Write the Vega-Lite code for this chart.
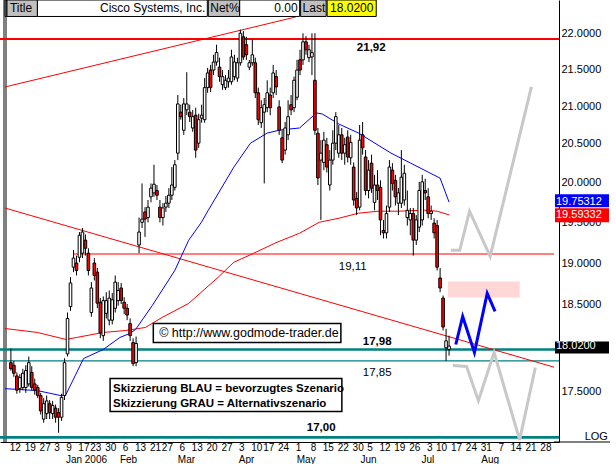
{
"$schema": "https://vega.github.io/schema/vega-lite/v6.json",
"width": 559, "height": 442,
"autosize": {"type": "none"},
"padding": {"left": 0, "top": 0, "right": 57, "bottom": 22},
"background": "#ffffff",
"config": {"view": {"stroke": null}, "font": "Liberation Sans"},
"data": {"values": [{}]},
"datasets": {
"candles": [
{"i":0,"o":17.83,"h":17.99,"l":17.74,"c":17.76},
{"i":1,"o":17.80,"h":17.85,"l":17.67,"c":17.71},
{"i":2,"o":17.68,"h":17.72,"l":17.48,"c":17.52},
{"i":3,"o":17.54,"h":17.70,"l":17.49,"c":17.66},
{"i":4,"o":17.55,"h":17.76,"l":17.52,"c":17.71},
{"i":5,"o":17.55,"h":17.80,"l":17.49,"c":17.74},
{"i":6,"o":17.59,"h":17.90,"l":17.56,"c":17.83},
{"i":7,"o":17.72,"h":17.79,"l":17.52,"c":17.55},
{"i":8,"o":17.59,"h":17.65,"l":17.47,"c":17.52},
{"i":9,"o":17.55,"h":17.58,"l":17.43,"c":17.46},
{"i":10,"o":17.46,"h":17.49,"l":17.25,"c":17.29},
{"i":11,"o":17.20,"h":17.43,"l":17.16,"c":17.37},
{"i":12,"o":17.26,"h":17.46,"l":17.20,"c":17.40},
{"i":13,"o":17.37,"h":17.41,"l":17.20,"c":17.27},
{"i":14,"o":17.26,"h":17.40,"l":17.20,"c":17.35},
{"i":15,"o":17.32,"h":17.36,"l":17.16,"c":17.22},
{"i":16,"o":17.27,"h":17.32,"l":17.05,"c":17.22},
{"i":17,"o":17.22,"h":17.48,"l":17.18,"c":17.44},
{"i":18,"o":17.46,"h":17.88,"l":17.41,"c":17.83},
{"i":19,"o":17.93,"h":18.41,"l":17.90,"c":18.34},
{"i":20,"o":18.48,"h":18.83,"l":18.43,"c":18.76},
{"i":21,"o":18.95,"h":19.16,"l":18.89,"c":19.06},
{"i":22,"o":19.00,"h":19.09,"l":18.85,"c":18.91},
{"i":23,"o":19.07,"h":19.38,"l":19.01,"c":19.34},
{"i":24,"o":19.12,"h":19.43,"l":19.06,"c":19.38},
{"i":25,"o":19.28,"h":19.35,"l":19.09,"c":19.18},
{"i":26,"o":19.12,"h":19.18,"l":18.85,"c":18.91},
{"i":27,"o":18.41,"h":18.77,"l":18.36,"c":18.70},
{"i":28,"o":19.00,"h":19.06,"l":18.79,"c":18.85},
{"i":29,"o":18.89,"h":18.94,"l":18.46,"c":18.52},
{"i":30,"o":18.53,"h":18.58,"l":18.11,"c":18.17},
{"i":31,"o":18.14,"h":18.60,"l":18.08,"c":18.55},
{"i":32,"o":18.40,"h":18.65,"l":18.34,"c":18.55},
{"i":33,"o":18.32,"h":18.67,"l":18.26,"c":18.58},
{"i":34,"o":18.32,"h":18.64,"l":18.27,"c":18.56},
{"i":35,"o":18.46,"h":18.85,"l":18.41,"c":18.77},
{"i":36,"o":18.55,"h":18.77,"l":18.49,"c":18.67},
{"i":37,"o":18.70,"h":18.76,"l":18.51,"c":18.55},
{"i":38,"o":18.53,"h":18.59,"l":18.39,"c":18.46},
{"i":39,"o":18.46,"h":18.51,"l":18.32,"c":18.38},
{"i":40,"o":18.28,"h":18.34,"l":18.08,"c":18.14},
{"i":41,"o":18.06,"h":18.11,"l":17.79,"c":17.82},
{"i":42,"o":17.83,"h":18.13,"l":17.79,"c":18.05},
{"i":43,"o":19.22,"h":19.56,"l":19.12,"c":19.38},
{"i":44,"o":19.50,"h":19.99,"l":19.43,"c":19.54},
{"i":45,"o":19.63,"h":19.69,"l":19.32,"c":19.54},
{"i":46,"o":19.56,"h":19.78,"l":19.50,"c":19.69},
{"i":47,"o":19.82,"h":19.99,"l":19.75,"c":19.93},
{"i":48,"o":19.87,"h":20.23,"l":19.82,"c":19.98},
{"i":49,"o":19.90,"h":19.97,"l":19.78,"c":19.84},
{"i":50,"o":19.69,"h":19.78,"l":19.50,"c":19.56},
{"i":51,"o":19.56,"h":19.74,"l":19.46,"c":19.68},
{"i":52,"o":19.69,"h":19.83,"l":19.63,"c":19.74},
{"i":53,"o":19.74,"h":19.93,"l":19.68,"c":19.84},
{"i":54,"o":19.84,"h":20.20,"l":19.78,"c":19.97},
{"i":55,"o":19.94,"h":20.29,"l":19.90,"c":20.23},
{"i":56,"o":20.38,"h":21.15,"l":20.29,"c":21.03},
{"i":57,"o":20.92,"h":21.02,"l":20.82,"c":20.86},
{"i":58,"o":20.68,"h":21.11,"l":20.62,"c":21.03},
{"i":59,"o":20.95,"h":21.46,"l":20.88,"c":21.03},
{"i":60,"o":20.92,"h":21.02,"l":20.79,"c":20.86},
{"i":61,"o":20.71,"h":20.95,"l":20.66,"c":20.86},
{"i":62,"o":20.88,"h":20.98,"l":20.32,"c":20.42},
{"i":63,"o":20.51,"h":20.90,"l":20.45,"c":20.82},
{"i":64,"o":20.84,"h":21.02,"l":20.78,"c":20.88},
{"i":65,"o":20.82,"h":21.38,"l":20.78,"c":21.25},
{"i":66,"o":21.25,"h":21.52,"l":21.18,"c":21.45},
{"i":67,"o":21.49,"h":21.56,"l":21.19,"c":21.25},
{"i":68,"o":21.49,"h":21.70,"l":21.42,"c":21.60},
{"i":69,"o":21.60,"h":21.84,"l":21.55,"c":21.73},
{"i":70,"o":21.53,"h":21.66,"l":21.33,"c":21.40},
{"i":71,"o":21.29,"h":21.49,"l":21.22,"c":21.40},
{"i":72,"o":21.25,"h":21.42,"l":21.22,"c":21.35},
{"i":73,"o":21.33,"h":21.49,"l":21.25,"c":21.38},
{"i":74,"o":21.33,"h":21.77,"l":21.29,"c":21.67},
{"i":75,"o":21.40,"h":21.70,"l":21.35,"c":21.60},
{"i":76,"o":21.38,"h":21.66,"l":21.33,"c":21.59},
{"i":77,"o":21.59,"h":22.05,"l":21.55,"c":22.00},
{"i":78,"o":21.95,"h":22.03,"l":21.63,"c":21.67},
{"i":79,"o":21.84,"h":21.95,"l":21.63,"c":21.70},
{"i":80,"o":21.53,"h":21.63,"l":21.49,"c":21.59},
{"i":81,"o":21.59,"h":21.91,"l":21.55,"c":21.70},
{"i":82,"o":21.59,"h":21.66,"l":21.11,"c":21.18},
{"i":83,"o":21.18,"h":21.25,"l":20.75,"c":20.82},
{"i":84,"o":20.78,"h":21.08,"l":20.71,"c":20.98},
{"i":85,"o":20.92,"h":21.11,"l":19.99,"c":21.02},
{"i":86,"o":20.98,"h":21.35,"l":20.92,"c":21.18},
{"i":87,"o":21.15,"h":21.25,"l":20.88,"c":20.98},
{"i":88,"o":21.18,"h":21.56,"l":21.11,"c":21.45},
{"i":89,"o":21.40,"h":21.49,"l":21.15,"c":21.26},
{"i":90,"o":20.99,"h":21.08,"l":20.62,"c":20.68},
{"i":91,"o":20.58,"h":20.68,"l":20.25,"c":20.29},
{"i":92,"o":20.42,"h":20.79,"l":20.36,"c":20.71},
{"i":93,"o":20.62,"h":21.08,"l":20.55,"c":20.86},
{"i":94,"o":21.02,"h":21.15,"l":20.88,"c":20.95},
{"i":95,"o":20.98,"h":21.40,"l":20.92,"c":21.35},
{"i":96,"o":21.12,"h":21.63,"l":21.08,"c":21.49},
{"i":97,"o":21.63,"h":21.77,"l":21.42,"c":21.49},
{"i":98,"o":21.63,"h":22.00,"l":21.56,"c":21.88},
{"i":99,"o":21.88,"h":21.96,"l":21.70,"c":21.77},
{"i":100,"o":21.66,"h":21.84,"l":21.60,"c":21.77},
{"i":101,"o":21.67,"h":22.00,"l":21.42,"c":21.73},
{"i":102,"o":21.35,"h":22.00,"l":20.62,"c":20.68},
{"i":103,"o":20.64,"h":20.71,"l":19.97,"c":20.06},
{"i":104,"o":20.29,"h":20.55,"l":19.53,"c":20.38},
{"i":105,"o":20.26,"h":20.66,"l":20.16,"c":20.55},
{"i":106,"o":20.49,"h":20.58,"l":20.13,"c":20.20},
{"i":107,"o":19.97,"h":20.42,"l":19.90,"c":20.29},
{"i":108,"o":20.29,"h":20.68,"l":20.23,"c":20.51},
{"i":109,"o":20.51,"h":20.92,"l":20.42,"c":20.86},
{"i":110,"o":20.38,"h":20.75,"l":20.32,"c":20.62},
{"i":111,"o":20.62,"h":20.71,"l":20.29,"c":20.38},
{"i":112,"o":20.38,"h":20.58,"l":20.23,"c":20.49},
{"i":113,"o":20.59,"h":20.68,"l":20.26,"c":20.33},
{"i":114,"o":20.32,"h":20.62,"l":20.23,"c":20.52},
{"i":115,"o":20.20,"h":20.26,"l":19.71,"c":19.78},
{"i":116,"o":19.80,"h":19.88,"l":19.59,"c":19.68},
{"i":117,"o":19.69,"h":20.75,"l":19.65,"c":20.55},
{"i":118,"o":20.62,"h":20.79,"l":20.36,"c":20.45},
{"i":119,"o":20.33,"h":20.42,"l":19.84,"c":19.90},
{"i":120,"o":19.90,"h":20.29,"l":19.80,"c":20.16},
{"i":121,"o":20.25,"h":20.36,"l":19.87,"c":19.93},
{"i":122,"o":19.75,"h":20.10,"l":19.65,"c":19.97},
{"i":123,"o":19.97,"h":20.16,"l":19.78,"c":19.90},
{"i":124,"o":19.94,"h":20.03,"l":19.34,"c":19.53},
{"i":125,"o":19.40,"h":19.53,"l":19.30,"c":19.37},
{"i":126,"o":19.37,"h":19.71,"l":19.30,"c":19.61},
{"i":127,"o":19.69,"h":20.29,"l":19.63,"c":20.20},
{"i":128,"o":20.16,"h":20.25,"l":19.90,"c":19.99},
{"i":129,"o":20.03,"h":20.10,"l":19.71,"c":19.82},
{"i":130,"o":19.74,"h":19.93,"l":19.59,"c":19.87},
{"i":131,"o":19.74,"h":20.42,"l":19.68,"c":20.07},
{"i":132,"o":19.78,"h":20.23,"l":19.71,"c":20.12},
{"i":133,"o":19.56,"h":19.90,"l":19.46,"c":19.65},
{"i":134,"o":19.53,"h":19.68,"l":19.34,"c":19.61},
{"i":135,"o":19.61,"h":19.68,"l":19.09,"c":19.28},
{"i":136,"o":19.28,"h":19.59,"l":19.22,"c":19.53},
{"i":137,"o":19.44,"h":20.01,"l":19.38,"c":19.90},
{"i":138,"o":19.53,"h":20.10,"l":19.46,"c":20.01},
{"i":139,"o":19.90,"h":20.05,"l":19.78,"c":19.87},
{"i":140,"o":19.82,"h":19.93,"l":19.55,"c":19.61},
{"i":141,"o":19.61,"h":19.71,"l":19.53,"c":19.64},
{"i":142,"o":19.49,"h":19.55,"l":19.30,"c":19.37},
{"i":143,"o":19.46,"h":19.53,"l":18.91,"c":18.95},
{"i":144,"o":18.82,"h":18.94,"l":18.65,"c":18.70},
{"i":145,"o":18.58,"h":18.61,"l":18.20,"c":18.24},
{"i":146,"o":18.00,"h":18.22,"l":17.85,"c":18.08},
{"i":147,"o":17.98,"h":18.14,"l":17.91,"c":18.02}
],
"ma_blue": [
{"i":-1.98,"p":17.537},{"i":8.90,"p":17.515},{"i":16.80,"p":17.459},{"i":18.45,"p":17.470},{"i":24.38,"p":17.877},{"i":30.97,"p":17.980},{"i":36.57,"p":18.119},{"i":39.87,"p":18.165},{"i":41.85,"p":18.212},{"i":47.45,"p":18.493},{"i":55.02,"p":18.912},{"i":59.64,"p":19.278},{"i":63.92,"p":19.501},{"i":66.23,"p":19.651},{"i":74.79,"p":20.199},{"i":80.40,"p":20.511},{"i":86.00,"p":20.643},{"i":90.28,"p":20.683},{"i":96.87,"p":20.710},{"i":102.47,"p":20.909},{"i":104.45,"p":20.896},{"i":110.05,"p":20.762},{"i":116.64,"p":20.643},{"i":127.51,"p":20.381},{"i":134.10,"p":20.251},{"i":140.69,"p":20.122},{"i":143.99,"p":20.058},{"i":147,"p":19.753}
],
"ma_red": [
{"i":-1.98,"p":18.223},{"i":8.90,"p":18.177},{"i":18.45,"p":18.096},{"i":22.08,"p":18.119},{"i":30.97,"p":18.177},{"i":38.55,"p":18.200},{"i":45.14,"p":18.235},{"i":50.74,"p":18.352},{"i":59.64,"p":18.517},{"i":69.52,"p":18.828},{"i":74.79,"p":19.009},{"i":81.38,"p":19.118},{"i":89.29,"p":19.254},{"i":96.87,"p":19.365},{"i":103.46,"p":19.501},{"i":110.05,"p":19.551},{"i":116.64,"p":19.614},{"i":123.23,"p":19.639},{"i":129.82,"p":19.639},{"i":138.71,"p":19.651},{"i":143.00,"p":19.639},{"i":147,"p":19.593}
],
"days": [
{"t":"12","i":1.5},{"t":"19","i":6.5},{"t":"27","i":11.5},{"t":"3","i":15.5},{"t":"9","i":19.5},{"t":"17","i":24.5},{"t":"23","i":28.5},{"t":"30","i":33.5},
{"t":"6","i":38.5},{"t":"13","i":43.5},{"t":"21","i":48.5},{"t":"27","i":52.5},{"t":"6","i":57.5},{"t":"13","i":62.5},{"t":"20","i":67.5},{"t":"27","i":72.5},
{"t":"3","i":77.5},{"t":"10","i":82.5},{"t":"17","i":86.5},{"t":"24","i":91.5},{"t":"1","i":96.5},{"t":"8","i":101.5},{"t":"15","i":106.5},{"t":"22","i":111.5},{"t":"30","i":116.5},
{"t":"5","i":120.5},{"t":"12","i":125.5},{"t":"19","i":130.5},{"t":"26","i":135.5},{"t":"3","i":140.5},{"t":"10","i":144.5},{"t":"17","i":149.5},{"t":"24","i":154.5},{"t":"31","i":159.5},
{"t":"7","i":164.5},{"t":"14","i":169.5},{"t":"21","i":174.5},{"t":"28","i":179.5}
],
"months": [
{"t":"Jan 2006","i":18.45},{"t":"Feb","i":36.57},{"t":"Mar","i":56.01},{"t":"Apr","i":76.44},{"t":"May","i":95.88},{"t":"Jun","i":117.3},{"t":"Jul","i":137.73},{"t":"Aug","i":157.83}
]
},
"layer": [
{
"data": {"values": [{"start": 146.6, "end": 170.7, "lo": 18.588, "hi": 18.779}]},
"mark": {"type": "rect", "fill": "#ffd7d7"},
"encoding": {
"x": {"field": "start", "type": "quantitative",
 "scale": {"domain": [-1.977, 182.21], "nice": false, "zero": false},
 "axis": {"orient": "bottom", "title": null, "grid": false, "ticks": false, "labels": false, "domain": true, "domainColor": "#000000", "domainWidth": 1}},
"x2": {"field": "end"},
"y": {"field": "lo", "type": "quantitative",
 "scale": {"type": "log", "domain": [16.95, 22.472], "nice": false},
 "axis": {"orient": "right", "title": null, "grid": false, "ticks": false, "domain": true, "domainColor": "#000000", "domainWidth": 1,
  "values": [17.5, 18.5, 19, 19.5, 20, 20.5, 21, 21.5, 22], "format": ".4f",
  "labelAlign": "left", "labelBaseline": "middle", "labelPadding": 2,
  "labelFont": "Liberation Sans", "labelFontSize": 11, "labelColor": "#000000",
  "labelOverlap": false, "labelFlush": false}},
"y2": {"field": "hi"}
}
},
{
"mark": {"type": "rule", "color": "#808080", "strokeWidth": 4},
"encoding": {"x": {"datum": -1.977, "type": "quantitative"}}
},
{
"mark": {"type": "rule", "color": "#000000", "strokeWidth": 1},
"encoding": {"x": {"datum": 182.21, "type": "quantitative"}, "x2": {"datum": 201.0}, "y": {"datum": 16.95, "type": "quantitative"}}
},
{
"mark": {"type": "rule", "color": "#ff0000", "strokeWidth": 2},
"encoding": {"y": {"datum": 21.92, "type": "quantitative"}}
},
{
"mark": {"type": "rule", "color": "#ff0000", "strokeWidth": 1},
"encoding": {"x": {"datum": 21.09, "type": "quantitative"}, "x2": {"datum": 182.21}, "y": {"datum": 19.11, "type": "quantitative"}}
},
{
"data": {"values": [{"p": 17.98}, {"p": 17.0}]},
"mark": {"type": "rule", "color": "#008080", "strokeWidth": 2.6},
"encoding": {"y": {"field": "p", "type": "quantitative"}}
},
{
"mark": {"type": "rule", "color": "#008080", "strokeWidth": 1.3},
"encoding": {"y": {"datum": 17.85, "type": "quantitative"}}
},
{
"data": {"values": [{"line": "a", "i": -1.98, "p": 21.259}, {"line": "a", "i": 95.55, "p": 22.23}, {"line": "b", "i": -1.98, "p": 19.679}, {"line": "b", "i": 182.21, "p": 17.779}]},
"mark": {"type": "line", "color": "#ff0000", "strokeWidth": 1},
"encoding": {"x": {"field": "i", "type": "quantitative"}, "y": {"field": "p", "type": "quantitative"}, "detail": {"field": "line"}}
},
{
"data": {"name": "ma_red"},
"mark": {"type": "line", "color": "#ff0000", "strokeWidth": 1},
"encoding": {"x": {"field": "i", "type": "quantitative"}, "y": {"field": "p", "type": "quantitative"}}
},
{
"data": {"name": "ma_blue"},
"mark": {"type": "line", "color": "#0000ff", "strokeWidth": 1},
"encoding": {"x": {"field": "i", "type": "quantitative"}, "y": {"field": "p", "type": "quantitative"}}
},
{
"data": {"name": "candles"},
"mark": {"type": "rule", "color": "#000000", "strokeWidth": 1},
"encoding": {"x": {"field": "i", "type": "quantitative"}, "y": {"field": "l", "type": "quantitative"}, "y2": {"field": "h"}}
},
{
"data": {"name": "candles"},
"mark": {"type": "bar", "width": 2.6, "stroke": "#000000", "strokeWidth": 1},
"encoding": {
"x": {"field": "i", "type": "quantitative"},
"y": {"field": "o", "type": "quantitative"}, "y2": {"field": "c"},
"fill": {"condition": {"test": "datum.c < datum.o", "value": "#ff0000"}, "value": "#ffffff"}
}
},
{
"data": {"values": [
{"s": "up", "i": 147.61, "p": 19.155}, {"s": "up", "i": 150.58, "p": 19.155}, {"s": "up", "i": 153.87, "p": 19.639}, {"s": "up", "i": 160.79, "p": 19.082}, {"s": "up", "i": 174.63, "p": 21.259},
{"s": "dn", "i": 148.27, "p": 17.797}, {"s": "dn", "i": 152.88, "p": 17.786}, {"s": "dn", "i": 156.84, "p": 17.403}, {"s": "dn", "i": 162.11, "p": 17.946}, {"s": "dn", "i": 170.68, "p": 16.973}, {"s": "dn", "i": 175.95, "p": 17.775}
]},
"mark": {"type": "line", "color": "#c8c8c8", "strokeWidth": 3},
"encoding": {"x": {"field": "i", "type": "quantitative"}, "y": {"field": "p", "type": "quantitative"}, "detail": {"field": "s"}}
},
{
"data": {"values": [{"i": 149.26, "p": 18.038}, {"i": 151.57, "p": 18.364}, {"i": 155.52, "p": 17.946}, {"i": 159.80, "p": 18.635}, {"i": 162.44, "p": 18.422}]},
"mark": {"type": "line", "color": "#0000ff", "strokeWidth": 3},
"encoding": {"x": {"field": "i", "type": "quantitative"}, "y": {"field": "p", "type": "quantitative"}}
},
{
"data": {"values": [{"t": "21,92", "i": 120.9, "p": 21.80}, {"t": "17,98", "i": 122.9, "p": 18.067}, {"t": "17,00", "i": 104.1, "p": 17.10}]},
"mark": {"type": "text", "font": "Liberation Sans", "fontSize": 11.5, "fontWeight": "bold", "color": "#000000", "align": "center", "baseline": "middle"},
"encoding": {"x": {"field": "i", "type": "quantitative"}, "y": {"field": "p", "type": "quantitative"}, "text": {"field": "t"}}
},
{
"data": {"values": [{"t": "19,11", "i": 114.7, "p": 18.955}, {"t": "17,85", "i": 122.9, "p": 17.712}]},
"mark": {"type": "text", "font": "Liberation Sans", "fontSize": 11.5, "color": "#000000", "align": "center", "baseline": "middle"},
"encoding": {"x": {"field": "i", "type": "quantitative"}, "y": {"field": "p", "type": "quantitative"}, "text": {"field": "t"}}
},
{
"data": {"values": [{"a": 47.78, "b": 110.71, "top": 18.282, "bot": 18.061}, {"a": 33.28, "b": 111.04, "top": 17.650, "bot": 17.282}]},
"mark": {"type": "rect", "fill": "#ffffff", "stroke": "#000000", "strokeWidth": 1.5},
"encoding": {"x": {"field": "a", "type": "quantitative"}, "x2": {"field": "b"}, "y": {"field": "top", "type": "quantitative"}, "y2": {"field": "bot"}}
},
{
"data": {"values": [{"t": "© http://www.godmode-trader.de", "i": 49.75, "p": 18.171}]},
"mark": {"type": "text", "font": "Liberation Sans", "fontSize": 12.5, "color": "#000000", "align": "left", "baseline": "middle"},
"encoding": {"x": {"field": "i", "type": "quantitative"}, "y": {"field": "p", "type": "quantitative"}, "text": {"field": "t"}}
},
{
"data": {"values": [{"t": "Skizzierung BLAU = bevorzugtes Szenario", "i": 34.27, "p": 17.537}, {"t": "Skizzierung GRAU = Alternativszenario", "i": 34.27, "p": 17.370}]},
"mark": {"type": "text", "font": "Liberation Sans", "fontSize": 11.5, "fontWeight": "bold", "color": "#000000", "align": "left", "baseline": "middle"},
"encoding": {"x": {"field": "i", "type": "quantitative"}, "y": {"field": "p", "type": "quantitative"}, "text": {"field": "t"}}
},
{
"data": {"values": [
{"a": -1.98, "b": -1.32, "role": "edge"},
{"a": -1.32, "b": 8.90, "role": "label"},
{"a": 8.90, "b": 65.90, "role": "value"},
{"a": 66.23, "b": 76.77, "role": "label"},
{"a": 76.77, "b": 96.87, "role": "value"},
{"a": 97.20, "b": 105.77, "role": "label"},
{"a": 106.1, "b": 122.57, "role": "highlight"}
]},
"mark": {"type": "rect", "stroke": "#000000", "strokeWidth": 1},
"encoding": {
"x": {"field": "a", "type": "quantitative"}, "x2": {"field": "b"},
"y": {"datum": 22.237, "type": "quantitative"}, "y2": {"datum": 22.472},
"fill": {"condition": [{"test": "datum.role == 'edge'", "value": "#7f9060"}, {"test": "datum.role == 'label'", "value": "#c0c0c0"}, {"test": "datum.role == 'highlight'", "value": "#ffff00"}], "value": "#ffffff"}
}
},
{
"data": {"values": [{"t": "Title", "i": -0.33}, {"t": "Net%", "i": 66.89}, {"t": "Last", "i": 97.86}, {"t": "18.0200", "i": 107.08}]},
"mark": {"type": "text", "font": "Liberation Sans", "fontSize": 12, "color": "#000000", "align": "left", "baseline": "middle"},
"encoding": {"x": {"field": "i", "type": "quantitative"}, "y": {"datum": 22.351, "type": "quantitative"}, "text": {"field": "t"}}
},
{
"data": {"values": [{"t": "Cisco Systems, Inc.", "i": 65.24}, {"t": "0.00", "i": 96.2}]},
"mark": {"type": "text", "font": "Liberation Sans", "fontSize": 12, "color": "#000000", "align": "right", "baseline": "middle"},
"encoding": {"x": {"field": "i", "type": "quantitative"}, "y": {"datum": 22.351, "type": "quantitative"}, "text": {"field": "t"}}
},
{
"data": {"values": [
{"t": "19.75312", "v": 19.75312, "hi": 19.853, "lo": 19.689, "k": "ma1"},
{"t": "19.59332", "v": 19.59332, "hi": 19.676, "lo": 19.501, "k": "ma2"},
{"t": "18.0200", "v": 18.02, "hi": 18.072, "lo": 17.934, "k": "last"}
]},
"layer": [
{
"mark": {"type": "rect"},
"encoding": {
"x": {"datum": 182.54, "type": "quantitative"}, "x2": {"datum": 200.66},
"y": {"field": "hi", "type": "quantitative"}, "y2": {"field": "lo"},
"fill": {"condition": [{"test": "datum.k == 'ma1'", "value": "#0000ff"}, {"test": "datum.k == 'ma2'", "value": "#ff0000"}], "value": "#000000"}
}
},
{
"mark": {"type": "text", "font": "Liberation Sans", "fontSize": 11, "color": "#ffffff", "align": "left", "baseline": "middle"},
"encoding": {"x": {"datum": 182.87, "type": "quantitative"}, "y": {"field": "v", "type": "quantitative"}, "text": {"field": "t"}}
}
]
},
{
"mark": {"type": "text", "font": "Liberation Sans", "fontSize": 11, "color": "#000000", "align": "center", "baseline": "middle", "text": "LOG"},
"encoding": {"x": {"datum": 196.4, "type": "quantitative"}, "y": {"datum": 17.002, "type": "quantitative"}}
},
{
"data": {"name": "days"},
"mark": {"type": "text", "font": "Liberation Sans", "fontSize": 10, "color": "#000000", "align": "center", "baseline": "middle"},
"encoding": {"x": {"field": "i", "type": "quantitative"}, "y": {"datum": 16.885, "type": "quantitative"}, "text": {"field": "t"}}
},
{
"data": {"name": "months"},
"mark": {"type": "text", "font": "Liberation Sans", "fontSize": 10, "color": "#000000", "align": "left", "baseline": "middle"},
"encoding": {"x": {"field": "i", "type": "quantitative"}, "y": {"datum": 16.757, "type": "quantitative"}, "text": {"field": "t"}}
}
]
}
